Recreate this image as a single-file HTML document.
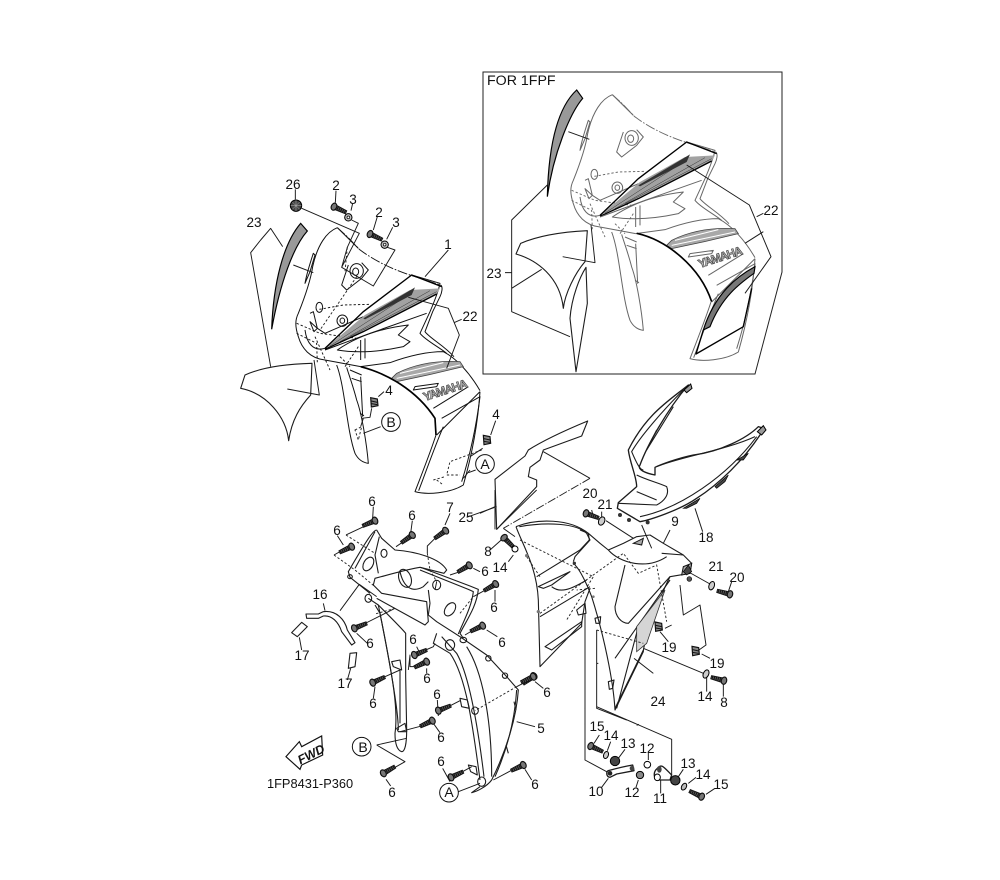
<!DOCTYPE html>
<html><head><meta charset="utf-8"><style>
html,body{margin:0;padding:0;background:#fff}
svg{display:block}
text{font-family:"Liberation Sans",sans-serif;font-size:13.5px;fill:#111;text-anchor:middle}
.l{fill:none;stroke:#1a1a1a;stroke-width:2.9;stroke-linejoin:round}
.d{fill:none;stroke:#222;stroke-width:2.8;stroke-dasharray:7 6}
.dd{fill:none;stroke:#222;stroke-width:2.8;stroke-dasharray:26 5 4 5}
.p{fill:none;stroke:#1c1c1c;stroke-width:3.3;stroke-linejoin:round}
.h{fill:none;stroke:#000;stroke-width:5;stroke-linejoin:round}
.c{fill:none;stroke:currentColor;stroke-width:3;stroke-linejoin:round}
.cd{fill:none;stroke:currentColor;stroke-width:2.8;stroke-dasharray:7 6}
.cdd{fill:none;stroke:currentColor;stroke-width:2.8;stroke-dasharray:30 5 5 5}
</style></head><body>
<svg width="1000" height="880" viewBox="0 0 1000 880" xmlns="http://www.w3.org/2000/svg">
<defs>
<g id="sc"><path d="M5,-7L40,-5L40,5L5,7Z" fill="#555" stroke="#111" stroke-width="2.5"/><path d="M12,-7V7M18,-6V6M24,-6V6M30,-5V5M36,-5V5" stroke="#111" stroke-width="3"/><ellipse rx="8" ry="11" fill="#777" stroke="#111" stroke-width="3.5"/></g>
<g id="nut"><path d="M-10,-14L10,-10L12,10L-8,14Z" fill="#888" stroke="#111" stroke-width="3.5"/><path d="M-8,-4L10,0M-8,4L10,7" stroke="#111" stroke-width="3"/></g>
<g id="cowl">
<path class="c" d="M322,173C290,185 262,225 248,290C242,330 225,380 205,430C195,450 195,470 205,500C215,535 240,565 285,570L392,590"/>
<path class="cdd" d="M322,173L352,200L388,238C430,270 480,295 540,315L632,345"/>
<path class="c" d="M322,173L385,235M632,345C640,350 635,370 630,380L608,425L585,485C600,505 640,525 672,560"/>
<path class="c" d="M545,315L630,340C625,365 615,390 600,425L570,490C585,510 625,530 650,550"/>
<path class="c" d="M250,250C240,280 230,310 225,340L240,305L255,255Z"/>
<ellipse class="c" cx="380" cy="303" rx="20" ry="22"/><ellipse class="c" cx="377" cy="305" rx="9" ry="11"/>
<path class="c" d="M355,285L335,345L350,360L395,325L415,300L395,278"/>
<ellipse class="c" cx="337" cy="452" rx="16" ry="17"/><ellipse class="c" cx="337" cy="452" rx="7" ry="8"/>
<ellipse class="c" cx="268" cy="412" rx="10" ry="15"/>
<path class="c" d="M240,430L250,425L262,475L285,490L400,440M262,475L252,485L240,455Z"/>
<path class="c" d="M225,480C230,520 250,545 285,535"/>
<path class="cd" d="M268,418L340,405L420,403M200,460L270,490L380,505M200,490L260,520L262,580M255,500L300,600M385,530L345,590M330,560L360,590"/>
<path d="M285,535L405,435L540,360L630,355L620,372L400,485Z" fill="#a2a2a2"/>
<path d="M300,528L540,372M330,515L600,362M360,500L620,365" stroke="#333" stroke-width="1.5" fill="none"/>
<path d="M400,445L555,352L545,375L405,448Z" fill="#333"/>
<path d="M285,535L400,425L545,315L635,350M285,538L400,485L620,372" fill="none" stroke="#000" stroke-width="4"/>
<path d="M285,540L420,490L590,430" class="c"/>
<path class="c" d="M322,540C380,500 450,475 535,465L505,495L540,515L520,530C450,545 380,550 322,540Z"/>
<path class="c" d="M392,510V570M405,505V565"/>
<path class="c" d="M392,590L480,578C530,560 590,545 640,545C680,565 720,610 750,662"/>
<path class="c" d="M620,795L750,665M750,665C745,740 730,840 700,945C660,970 590,975 555,965C580,900 600,850 618,795"/>
<path class="c" d="M635,745L750,680C740,760 725,840 695,935M566,962C590,900 610,840 640,770"/>
<path class="c" d="M610,715L715,650"/>
<path class="c" d="M320,585C345,650 350,780 375,850C385,870 400,878 415,880C410,820 395,730 380,690C370,650 355,610 350,592"/>
<path class="c" d="M360,600L395,615M365,625L395,635M392,620L398,740M390,730L402,737"/>
<path d="M485,625L500,610C540,590 600,570 690,575L700,590C640,605 550,625 500,635Z" fill="#a8a8a8" stroke="#444" stroke-width="2.4"/>
<path d="M510,610L640,578M500,625L690,585" stroke="#fff" stroke-width="3" fill="none"/>
<path class="c" d="M555,650L625,640L620,650L550,660Z"/>
<text transform="translate(650,672) rotate(-18)" style="font-size:36px;font-weight:bold;fill:#bbb;stroke:#444;stroke-width:2" textLength="138">YAMAHA</text>
</g>
</defs>

<!-- frame -->
<path d="M483,72H782V272L755,374H483Z" fill="none" stroke="#222" stroke-width="1"/>

<!-- cowls -->
<use href="#cowl" transform="translate(230,170) scale(.33333)" style="color:#111"/>
<use href="#cowl" transform="translate(505,37) scale(.33333)" style="color:#666"/>

<!-- main extras -->
<g transform="translate(230,170) scale(.33333)">
<path class="h" d="M392,590C470,610 560,660 615,745L618,795" style="stroke-width:5"/>
<path class="l" d="M92,210L122,175L158,230M92,210L62,248L122,590"/>
<path d="M212,160L232,183C190,230 150,340 125,478C130,340 160,220 212,160Z" fill="#999" stroke="#000" stroke-width="3.5"/>
<path class="l" d="M190,285L250,308"/>
<path class="p" d="M32,655L45,615C100,590 170,582 246,580L242,675C210,710 185,750 176,812C168,740 110,670 32,655Z"/>
<path class="l" d="M172,657L268,675L252,570"/>
<circle cx="198" cy="107" r="17" fill="#444" stroke="#000" stroke-width="3"/><path d="M182,107H214M198,91V123M187,96L209,118M187,118L209,96" stroke="#bbb" stroke-width="1.5"/>
<use href="#sc" transform="translate(312,110) rotate(25)"/>
<use href="#sc" transform="translate(420,192) rotate(25)"/>
<circle cx="355" cy="142" r="11" fill="#bbb" stroke="#000" stroke-width="3"/><circle cx="355" cy="142" r="4" fill="#fff" stroke="#000" stroke-width="2"/>
<circle cx="464" cy="224" r="11" fill="#bbb" stroke="#000" stroke-width="3"/><circle cx="464" cy="224" r="4" fill="#fff" stroke="#000" stroke-width="2"/>
<path class="l" d="M196,88V58M316,98L318,62M363,122L368,100M430,180L442,140M470,208L488,172M215,115L388,190L335,292L430,348L495,240L472,232M365,150L385,160L352,232L335,292M655,240L585,320M535,382L655,415L688,495L650,595M672,458L695,448"/>
<path class="d" d="M380,320L270,480M352,232L345,305"/>
<use href="#nut" transform="translate(432,697)"/><use href="#nut" transform="translate(770,810)"/>
<path class="l" d="M445,680L462,665M782,795L797,752M425,715L420,742L395,745M400,745L392,770M758,835L720,860M720,900L700,925"/>
<path class="d" d="M755,840L660,875L650,915L690,915M610,930L645,920M620,930L640,945M375,780L395,770L385,810Z"/>
<path class="l" d="M452,770L400,790"/>
<circle cx="483" cy="756" r="28" fill="#fff" stroke="#111" stroke-width="3"/>
<circle cx="765" cy="882" r="28" fill="#fff" stroke="#111" stroke-width="3"/>
<path class="l" d="M737,900L715,908"/>
</g>

<!-- inset extras -->
<g transform="translate(480,70) scale(.33333)">
<path d="M290,60L308,85C270,130 220,250 202,380C205,250 225,120 290,60Z" fill="#999" stroke="#000" stroke-width="3.5"/>
<path class="l" d="M265,185L328,208"/>
<path class="p" d="M108,552L122,520C180,495 260,485 322,482L315,575C285,610 255,670 250,715C240,620 170,570 108,552Z"/>
<path class="l" d="M248,560L345,578L333,465"/>
<path class="p" d="M318,592L322,700L288,905L270,745C275,680 300,620 318,592Z"/>
<path class="l" d="M202,345L95,450V725L270,800M95,655L185,598M75,608H95"/>
<path class="l" d="M620,285L808,405L873,560L795,670M830,440L850,430M795,520L850,485"/>
<path class="h" d="M470,490C560,510 660,590 695,695" style="stroke-width:5"/>
<path d="M825,590C770,620 705,670 670,780L690,770C725,680 780,640 822,610Z" fill="#777" stroke="#000" stroke-width="3.5"/>
<path class="p" d="M670,780L648,852L790,770L815,655" style="stroke:#000;stroke-width:4"/>
</g>

<!-- left stay assembly -->
<g transform="translate(260,490) scale(.33333)">
<path class="p" d="M350,120C340,120 320,150 265,245L270,262L330,310"/>
<path class="p" d="M350,120L365,145L405,180C470,185 540,205 560,240L552,250L480,232C455,235 420,245 345,265L340,285L365,310L500,335L505,395L495,405L350,325"/>
<path class="p" d="M358,140L345,195L355,250M285,235L345,125"/>
<ellipse class="p" cx="325" cy="222" rx="14" ry="22" transform="rotate(30 325 222)"/>
<ellipse class="p" cx="372" cy="190" rx="9" ry="12"/>
<ellipse class="p" cx="435" cy="265" rx="18" ry="28" transform="rotate(-20 435 265)"/>
<path class="p" d="M420,245C430,290 455,310 490,290L505,275"/>
<path class="p" d="M482,232L630,288L655,298C650,350 620,390 600,430L610,445M505,300L510,340L505,375L530,395L600,440L680,495L740,560L775,600C770,680 740,780 695,870C680,890 650,905 635,908L660,890"/>
<path class="p" d="M480,240L625,298L640,305C635,350 610,395 595,432"/>
<path class="p" d="M530,430L520,460L570,490C620,560 640,720 660,870M545,440L590,490C630,560 655,720 672,860"/>
<path class="p" d="M620,470C665,540 695,680 695,860"/>
<path class="p" d="M770,600C765,680 745,770 705,860"/>
<ellipse class="p" cx="530" cy="285" rx="12" ry="14"/>
<ellipse class="p" cx="570" cy="358" rx="14" ry="22" transform="rotate(35 570 358)"/>
<ellipse class="p" cx="325" cy="325" rx="10" ry="12"/><ellipse class="p" cx="270" cy="260" rx="7" ry="6"/>
<ellipse class="p" cx="570" cy="465" rx="14" ry="16"/>
<ellipse class="p" cx="610" cy="450" rx="10" ry="8"/>
<ellipse class="p" cx="685" cy="505" rx="8" ry="8"/><ellipse class="p" cx="735" cy="557" rx="8" ry="8"/>
<path class="p" d="M762,635L768,660M738,765L745,790"/>
<path class="p" d="M600,625L622,630L628,655L605,650Z"/><ellipse class="p" cx="645" cy="662" rx="10" ry="11"/>
<path class="p" d="M625,825L648,830L652,855L632,845Z"/>
<ellipse class="p" cx="665" cy="875" rx="12" ry="14"/>
<path class="p" d="M325,325L355,345C370,360 430,420 437,430L437,560L440,720C440,760 435,785 425,785C410,780 405,760 405,730C415,660 400,570 360,370L345,345"/>
<path class="p" d="M355,345C370,420 415,640 415,720M420,540L420,700"/>
<path class="p" d="M395,515L420,510L425,540L400,530Z"/><path class="p" d="M410,715L435,700L440,725L415,725Z"/>
<path class="p" d="M138,372L175,372L190,365C230,360 255,390 262,420L285,458L275,465L245,425C235,395 215,375 190,378L175,385L140,385Z"/>
<path class="p" d="M95,428L125,397L142,410L112,440Z"/>
<path class="p" d="M270,490L290,488L285,530L265,535Z"/>
<path class="l" d="M118,442L125,480M272,535L262,570M240,362L298,283L350,320M190,340L195,362"/>
<path class="l" d="M322,105L258,135M338,85L340,50M430,155L408,170M452,130L457,92M245,182L222,195M250,165L232,137M530,140L502,168V190M555,105L570,70M620,82L710,50M705,0V118M710,118L830,0M600,245L570,255M640,235L660,245M680,298L640,320M705,300V335M640,420L615,435M680,420L712,440M312,402L405,355M290,430L322,460M497,480L520,470L525,460M470,530H450V495L445,540M482,495L470,470M500,535V550M368,563L420,540M345,590L340,625M565,650L600,632M535,678L532,630M488,707L420,725M520,700L540,728M440,745L350,765M350,765L435,815L400,835M378,868L392,888M602,848L635,830M570,875L548,835M760,838L700,870M595,905L660,880M795,838L815,870M795,577L770,590M825,575L850,595M770,695L825,710"/>
<path class="d" d="M258,135L345,190M222,195L285,240L345,290M502,190L510,240M405,355L345,372M600,370L640,320M510,240L530,275M770,590L645,662"/>
<path class="l" d="M530,275L525,300"/>
<use href="#sc" transform="translate(345,92) rotate(157)"/>
<use href="#sc" transform="translate(457,135) rotate(145)"/>
<use href="#sc" transform="translate(275,170) rotate(155)"/>
<use href="#sc" transform="translate(557,122) rotate(145)"/>
<use href="#sc" transform="translate(628,226) rotate(150)"/>
<use href="#sc" transform="translate(707,282) rotate(150)"/>
<use href="#sc" transform="translate(283,415) rotate(-22)"/>
<use href="#sc" transform="translate(668,407) rotate(155)"/>
<use href="#sc" transform="translate(463,495) rotate(-22)"/>
<use href="#sc" transform="translate(500,515) rotate(155)"/>
<use href="#sc" transform="translate(338,578) rotate(-25)"/>
<use href="#sc" transform="translate(535,662) rotate(-22)"/>
<use href="#sc" transform="translate(517,692) rotate(155)"/>
<use href="#sc" transform="translate(370,850) rotate(-30)"/>
<use href="#sc" transform="translate(573,862) rotate(-25)"/>
<use href="#sc" transform="translate(790,825) rotate(155)"/>
<use href="#sc" transform="translate(822,558) rotate(145)"/>
<circle cx="305" cy="770" r="28" fill="#fff" stroke="#111" stroke-width="3"/>
<circle cx="567" cy="908" r="28" fill="#fff" stroke="#111" stroke-width="3"/>
<path d="M78,800L118,755L125,770L185,738L188,795L125,825L120,838Z" fill="#fff" stroke="#111" stroke-width="3.5"/>
</g>

<!-- right cowl assembly -->
<g transform="translate(480,380) scale(.33333)">
<path class="p" d="M45,298L135,228L145,210C200,175 270,145 323,123L305,168L190,210L180,240L150,262L145,290L170,300L170,320L50,448Z"/>
<path class="l" d="M190,215L330,295M70,445L105,470M45,380L0,400"/>
<path class="dd" d="M330,295L70,445"/>
<path class="p" d="M625,15C570,60 500,100 445,210C450,250 470,290 470,320L415,368L412,385L480,425C510,420 600,390 650,355C720,310 790,240 840,165L850,145L835,140C800,175 720,215 640,225C590,235 540,255 525,262L525,285C500,280 470,270 480,255C500,200 560,90 625,15Z" style="stroke-width:4"/>
<path class="p" d="M610,30C550,90 480,170 455,215C470,250 480,270 490,270M580,80L500,210L530,150M470,285C500,300 540,310 560,320C570,345 550,365 530,375L415,370M470,335L530,360M530,260C600,230 740,210 825,170M480,410C600,385 740,290 830,170"/>
<path d="M610,385L660,355L650,370L620,385ZM705,320L745,285L735,305L710,325ZM770,240L805,220L790,240Z" fill="#444" stroke="#000" stroke-width="2"/>
<path d="M612,30L632,12L636,25L620,38ZM832,155L850,137L858,150L845,165Z" fill="#999" stroke="#000" stroke-width="3"/>
<circle cx="420" cy="405" r="6" fill="#333"/><circle cx="447" cy="420" r="6" fill="#333"/><circle cx="503" cy="427" r="6" fill="#333"/>
<path class="p" d="M108,440C170,415 270,415 325,460L360,490L385,510L430,490L470,470L510,465L550,490L610,525L635,550L630,580L570,590L565,600C540,650 490,790 490,815L405,990C400,900 370,760 335,650C320,610 300,570 285,555"/>
<path class="p" d="M108,440C130,500 170,560 175,660L180,860L305,730L315,665L330,625M118,440C200,425 290,430 320,460L330,480L285,530L280,545"/>
<path class="p" d="M300,450L325,460L328,480L300,510L170,590M180,710L330,620"/>
<path class="p" d="M175,620L270,575L215,615L190,625ZM215,620C240,640 270,630 320,600"/>
<path class="p" d="M195,800L305,725L305,740L215,810Z"/><path class="p" d="M290,690L315,670L318,700L295,705Z"/>
<path class="p" d="M435,555L405,680C405,710 425,730 445,730L570,590M385,510C420,550 500,570 560,530M545,520L610,525"/>
<path class="p" d="M570,600L405,835M490,810L405,985M410,985L475,740"/>
<path class="p" d="M345,715L362,710L360,730L348,730ZM385,905L402,900L398,925L388,928Z"/>
<path d="M470,740L555,630L500,790L470,815Z" fill="#d5d5d5" stroke="#333" stroke-width="2.4"/>
<path d="M635,550L610,560L605,585L630,580ZM460,490L490,475L485,495Z" fill="#aaa" stroke="#111" stroke-width="3"/>
<path class="d" d="M120,480L340,590L260,720M140,530L180,590M180,700L430,520L475,580L530,555L560,725M345,625L290,630"/>
<path class="d" d="M350,750L490,790"/>
<path class="l" d="M315,700V1020M350,750V985L440,1020M350,850H355"/>
<path class="l" d="M378,422L460,475M485,435L515,505M570,450L550,490M645,385L668,455M615,570L690,612M600,615L610,705L660,675L678,795L650,815M490,805L670,880M520,880L462,835"/>
<path class="l" d="M540,755L565,785M665,822L690,835M680,890V935M730,910V950M575,735L555,745M340,410L335,390M365,410V395M75,470L30,510M100,525L85,545M745,635L755,605"/>
<use href="#sc" transform="translate(318,400) rotate(20)"/>
<ellipse cx="365" cy="423" rx="9" ry="13" fill="#ccc" stroke="#000" stroke-width="3" transform="rotate(25 365 423)"/>
<use href="#sc" transform="translate(72,473) rotate(45)"/>
<circle cx="105" cy="507" r="9" fill="#fff" stroke="#000" stroke-width="3"/>
<ellipse cx="695" cy="617" rx="8" ry="13" fill="#ccc" stroke="#000" stroke-width="3" transform="rotate(20 695 617)"/>
<use href="#sc" transform="translate(750,643) rotate(195)"/>
<use href="#nut" transform="translate(535,740)"/><use href="#nut" transform="translate(646,813)"/>
<ellipse cx="678" cy="882" rx="8" ry="13" fill="#ccc" stroke="#000" stroke-width="3" transform="rotate(25 678 882)"/>
<use href="#sc" transform="translate(732,902) rotate(195)"/>
<use href="#sc" transform="translate(160,890) rotate(155)"/>
<path d="M610,575L625,555L635,575L620,585Z" fill="#444" stroke="#000" stroke-width="2"/>
<circle cx="628" cy="597" r="7" fill="#555" stroke="#000" stroke-width="2"/>
<circle cx="340" cy="650" r="4" fill="#777"/><circle cx="283" cy="550" r="5" fill="#333"/>
<circle cx="140" cy="527" r="5" fill="#777"/><circle cx="175" cy="695" r="5" fill="#777"/>
</g>

<!-- small hardware bottom -->
<g transform="translate(570,700) scale(.33333)">
<path class="l" d="M80,20L305,118V225M45,60V180L110,215M200,76L207,73"/>
<use href="#sc" transform="translate(62,138) rotate(25)"/>
<ellipse cx="108" cy="165" rx="7" ry="11" fill="#ccc" stroke="#000" stroke-width="3" transform="rotate(20 108 165)"/>
<circle cx="135" cy="183" r="14" fill="#444" stroke="#000" stroke-width="3"/>
<path class="p" d="M115,212C140,205 170,198 188,195L192,212L140,222L120,232C108,230 108,215 115,212Z" style="stroke-width:4"/>
<circle cx="120" cy="220" r="7" fill="#222"/><circle cx="186" cy="205" r="7" fill="#444"/>
<circle cx="210" cy="225" r="11" fill="#888" stroke="#000" stroke-width="3"/>
<circle cx="232" cy="194" r="10" fill="#fff" stroke="#000" stroke-width="3"/>
<path class="p" d="M262,205C275,190 280,200 305,225L300,240L260,240C250,230 250,215 262,205Z" style="stroke-width:4"/>
<ellipse cx="268" cy="208" rx="7" ry="10" fill="#444"/><ellipse cx="262" cy="232" rx="9" ry="10" fill="#fff" stroke="#000" stroke-width="3"/>
<circle cx="316" cy="241" r="14" fill="#444" stroke="#000" stroke-width="3"/>
<ellipse cx="342" cy="260" rx="7" ry="11" fill="#bbb" stroke="#000" stroke-width="3" transform="rotate(30 342 260)"/>
<use href="#sc" transform="translate(395,290) rotate(205)"/>
<path class="l" d="M88,105L72,130M122,125L112,152M165,148L145,175M235,155V180M205,240L198,262M340,208L325,230M378,232L355,250M272,240V280M435,265L408,283M115,235L95,262"/>
</g>

<!-- labels -->
<g>
<text x="293" y="189">26</text><text x="336" y="190">2</text><text x="353" y="204">3</text>
<text x="379" y="217">2</text><text x="396" y="227">3</text><text x="254" y="227">23</text>
<text x="448" y="249">1</text><text x="470" y="321">22</text><text x="389" y="395">4</text><text x="496" y="419">4</text>
<text x="391" y="427" style="font-size:14px">B</text><text x="485" y="469" style="font-size:14px">A</text>
<text x="487" y="85" style="text-anchor:start;font-size:14.2px">FOR 1FPF</text>
<text x="771" y="215">22</text><text x="494" y="278">23</text>
<text x="372" y="506">6</text><text x="412" y="520">6</text><text x="450" y="512">7</text><text x="337" y="535">6</text>
<text x="590" y="498">20</text><text x="605" y="509">21</text><text x="675" y="526">9</text><text x="706" y="542">18</text>
<text x="466" y="522">25</text><text x="488" y="556">8</text><text x="500" y="572">14</text>
<text x="485" y="576">6</text><text x="494" y="612">6</text><text x="502" y="647">6</text>
<text x="716" y="571">21</text><text x="737" y="582">20</text><text x="669" y="652">19</text><text x="717" y="668">19</text>
<text x="320" y="599">16</text><text x="302" y="660">17</text><text x="345" y="688">17</text>
<text x="370" y="648">6</text><text x="413" y="644">6</text><text x="427" y="683">6</text>
<text x="373" y="708">6</text><text x="437" y="699">6</text><text x="441" y="742">6</text>
<text x="392" y="797">6</text><text x="441" y="766">6</text><text x="535" y="789">6</text>
<text x="547" y="697">6</text><text x="541" y="733">5</text>
<text x="658" y="706">24</text><text x="705" y="701">14</text><text x="724" y="707">8</text>
<text x="597" y="731">15</text><text x="611" y="740">14</text><text x="628" y="748">13</text><text x="647" y="753">12</text>
<text x="688" y="768">13</text><text x="703" y="779">14</text><text x="721" y="789">15</text>
<text x="596" y="796">10</text><text x="632" y="797">12</text><text x="660" y="803">11</text>
<text x="363" y="752" style="font-size:14px">B</text><text x="449" y="797" style="font-size:14px">A</text>
<text x="267" y="788" style="text-anchor:start;font-size:12.8px">1FP8431-P360</text>
<text transform="translate(313,758) rotate(-27)" style="font-size:12.5px;font-weight:bold;font-style:italic">FWD</text>
</g>
</svg>
</body></html>
